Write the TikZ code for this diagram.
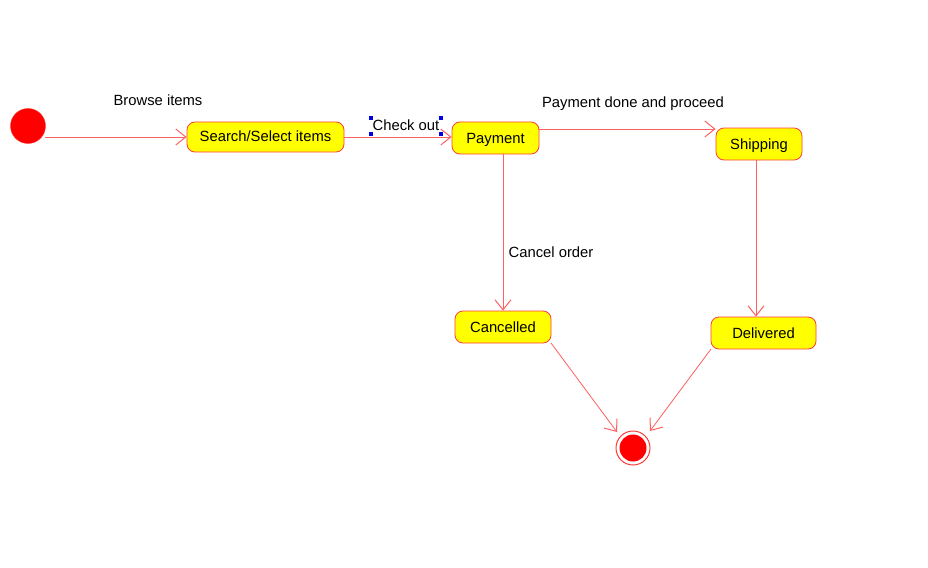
\documentclass[tikz,border=0pt]{standalone}
\usepackage{fontspec}
\setmainfont{Liberation Sans}
\usetikzlibrary{arrows.meta}
\definecolor{lnred}{RGB}{255,96,96}
\definecolor{bdred}{RGB}{255,60,60}
\definecolor{stfill}{RGB}{255,255,0}
\definecolor{hdl}{RGB}{0,0,230}
\begin{document}
\begin{tikzpicture}[x=1pt,y=-1pt,
  every node/.style={font=\fontsize{14.8}{17}\selectfont},
  state/.style={draw=bdred, fill=stfill, rounded corners=8pt, line width=0.8pt, inner sep=0pt, anchor=center, text height=10pt, text depth=0pt},
  trans/.style={draw=lnred, line width=1pt, -{Straight Barb[length=10pt,width=16pt,line width=1pt]}},
  lbl/.style={inner sep=0pt, text=black, text height=10pt, text depth=0pt}]
\useasboundingbox (0,0) rectangle (928,567);
\fill[white] (0,0) rectangle (928,567);
% initial
\node[circle, fill=red, draw=red!80, minimum size=35pt, inner sep=0pt] (init) at (28,126) {};
\node[state, minimum width=157pt, minimum height=30pt] (search) at (265.5,137) {Search/Select items};
\node[state, minimum width=87pt, minimum height=32pt] (pay) at (495.5,138) {Payment};
\node[state, minimum width=86pt, minimum height=32pt] (ship) at (759,144) {Shipping};
\node[state, minimum width=96pt, minimum height=32pt] (canc) at (503,327) {Cancelled};
\node[state, minimum width=105pt, minimum height=32pt] (deliv) at (763.5,333) {Delivered};
\node[circle, draw=bdred, line width=1pt, fill=white, minimum size=34pt, inner sep=0pt] (final) at (633,448) {};
\node[circle, fill=red, minimum size=27pt, inner sep=0pt] (finalin) at (633,448) {};
% transitions
\coordinate (i1) at (45,137);
\draw[trans] (i1) -- (search.west);
\draw[trans] (search.east) -- (pay.west |- search.east);
\draw[trans] (pay.east |- 0,129) -- (ship.west |- 0,129);
\draw[trans] (pay.south -| 503,0) -- (canc.north -| 503,0);
\draw[trans] (ship.south -| 756,0) -- (deliv.north -| 756,0);
\coordinate (c1) at (551,343);
\coordinate (d1) at (711,349);
\coordinate (f1) at (617,432);
\coordinate (f2) at (650,431);
\draw[trans, line width=0.8pt] (c1) -- (f1);
\draw[trans, line width=0.8pt] (d1) -- (f2);
% labels
\node[lbl] (l1) at (158,101) {Browse items};
\node[lbl] (l2) at (406,126) {Check out};
\node[lbl] (l3) at (633,102) {Payment done and proceed};
\node[lbl] (l4) at (551,252) {Cancel order};
% selection handles
\foreach \hx/\hy in {371/118, 441/118, 371/134, 441/134}
  \fill[hdl] (\hx-2,\hy-2) rectangle (\hx+2,\hy+2);
\end{tikzpicture}
\end{document}
